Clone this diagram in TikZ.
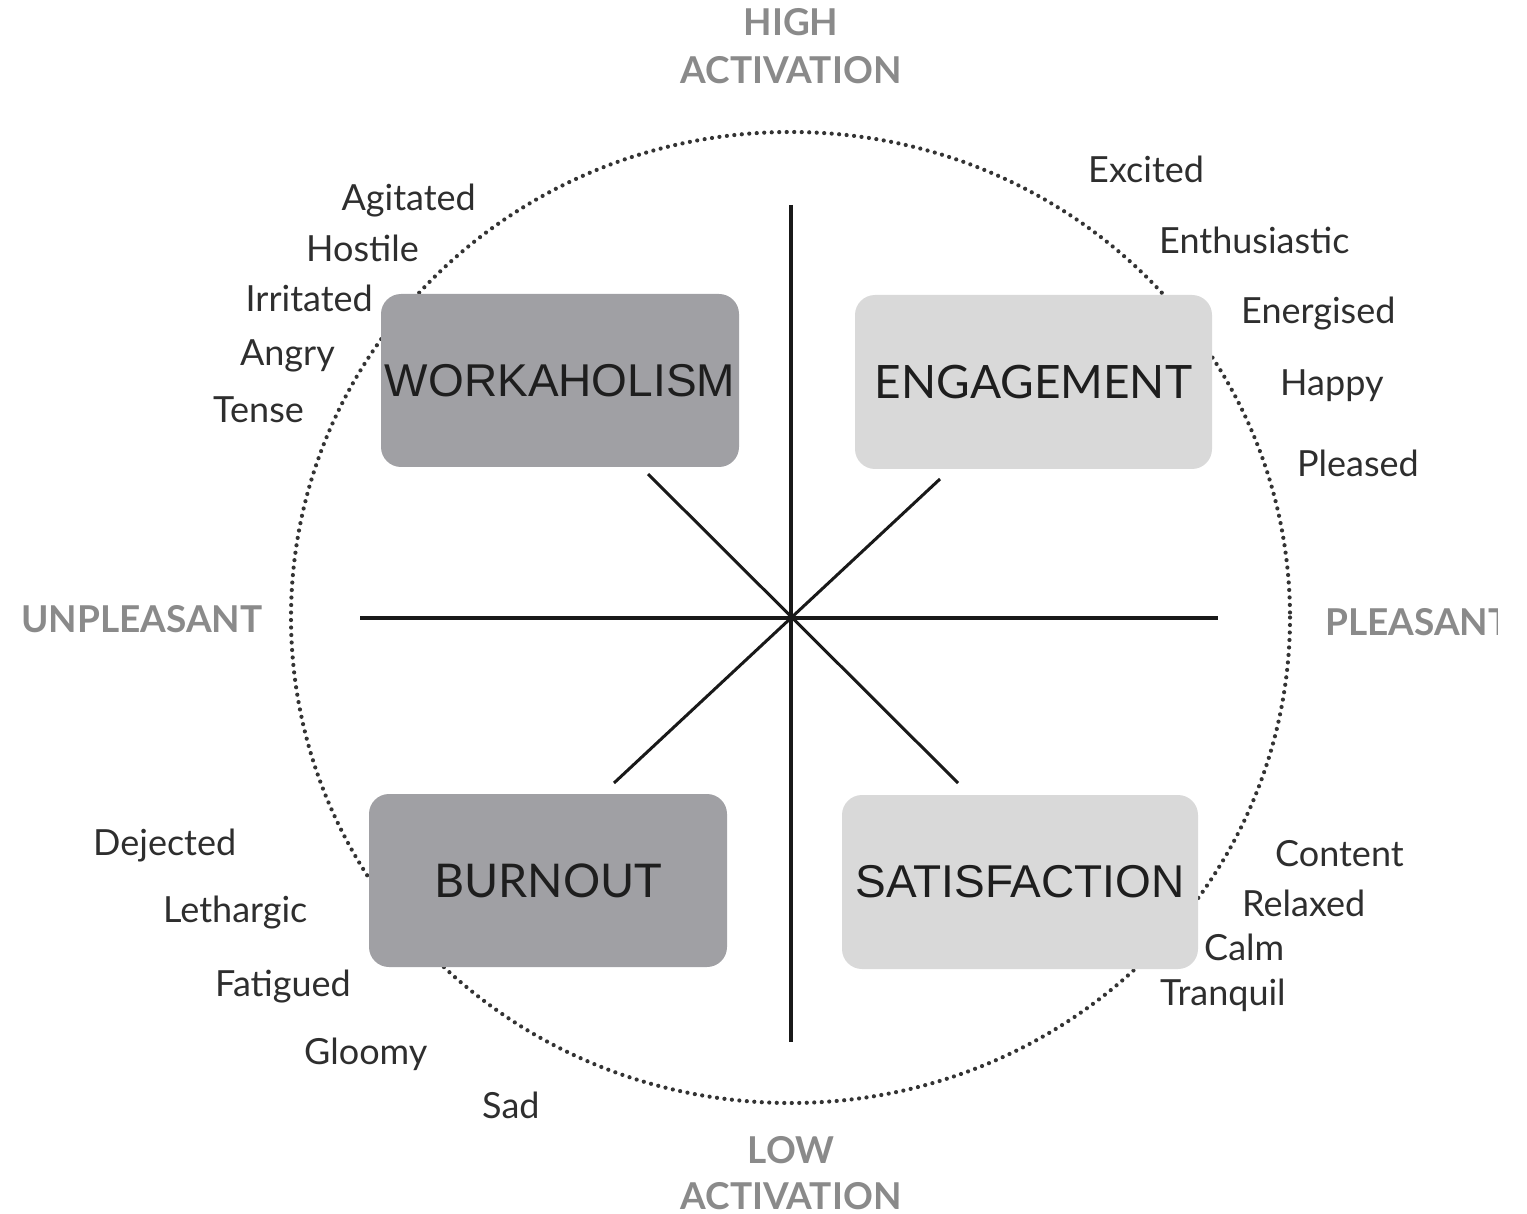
\documentclass[tikz,border=0pt]{standalone}
\usepackage{fontspec}
\setmainfont{Lato}
\newfontfamily\arialfont{Liberation Sans}
\definecolor{darkbox}{HTML}{A0A0A4}
\definecolor{lightbox}{HTML}{D9D9D9}
\definecolor{wordcol}{HTML}{2E2E2E}
\definecolor{headcol}{HTML}{8A8A8A}
\definecolor{boxtext}{HTML}{1E1E1E}
\tikzset{
  word/.style={text=wordcol, inner sep=0pt, font=\fontsize{36}{40}\selectfont},
  head/.style={text=headcol, inner sep=0pt, font=\bfseries\fontsize{37}{40}\selectfont},
  quad/.style={rounded corners=20pt, inner sep=0pt, text=boxtext},
  darkq/.style={quad, fill=darkbox},
  lightq/.style={quad, fill=lightbox},
  axis/.style={line width=4.5pt, draw=black!90},
  diag/.style={line width=3pt, draw=black!90},
  rim/.style={line width=4.2pt, line cap=round, dash pattern=on 0pt off 7.5pt, draw=black!80}
}
\begin{document}
\begin{tikzpicture}[x=1pt,y=-1pt]
\useasboundingbox (0,0) rectangle (1527,1214);
% circle
\coordinate (c) at (790.5,617.5);
\draw[rim] (c) ellipse [x radius=499.5, y radius=485.5];
% axes
\coordinate (vt) at (791,205);
\coordinate (vb) at (791,1042);
\coordinate (hl) at (360,618);
\coordinate (hr) at (1218,618);
\draw[axis] (vt) -- (vb);
\draw[axis] (hl) -- (hr);
\coordinate (d1a) at (648,474);
\coordinate (d1b) at (958,783);
\coordinate (d2a) at (940,479);
\coordinate (d2b) at (614,783);
\draw[diag] (d1a) -- (d1b);
\draw[diag] (d2a) -- (d2b);
% boxes
\node[darkq, minimum width=358pt, minimum height=173pt, font=\arialfont\fontsize{46}{50}\selectfont] (work) at (560,380.5) {WORKAHOLISM};
\node[lightq, minimum width=357pt, minimum height=174pt, font=\fontsize{46}{50}\selectfont] (eng) at (1033.5,382) {ENGAGEMENT};
\node[darkq, minimum width=358pt, minimum height=173pt, font=\fontsize{46.5}{50}\selectfont] (burn) at (548,880.5) {BURNOUT};
\node[lightq, minimum width=356pt, minimum height=174pt, font=\arialfont\fontsize{46}{50}\selectfont] (sat) at (1020,882) {SATISFACTION};
% headings
\node[head, anchor=base] (high) at (791,36) {HIGH};
\node[head, anchor=base] (hact) at (791,84) {ACTIVATION};
\node[head, anchor=base] (low) at (791,1163) {LOW};
\node[head, anchor=base] (lact) at (791,1209) {ACTIVATION};
\node[head, anchor=base west] (unp) at (21,632) {UNPLEASANT};
\begin{scope}
\clip (0,0) rectangle (1497,1214);
\node[head, anchor=base west] (pls) at (1325,635) {PLEASANT};
\end{scope}
% words top right
\node[word, anchor=base west] (w1) at (1088,183) {Excited};
\node[word, anchor=base west] (w2) at (1159,254) {Enthusiastic};
\node[word, anchor=base west] (w3) at (1241,324) {Energised};
\node[word, anchor=base west] (w4) at (1280,396) {Happy};
\node[word, anchor=base west] (w5) at (1297,477) {Pleased};
% words top left
\node[word, anchor=base east] (w6) at (476,211) {Agitated};
\node[word, anchor=base east] (w7) at (419,262) {Hostile};
\node[word, anchor=base east] (w8) at (373,312) {Irritated};
\node[word, anchor=base east] (w9) at (335,366) {Angry};
\node[word, anchor=base east] (w10) at (304,423) {Tense};
% words bottom left
\node[word, anchor=base west] (w11) at (93,855) {Dejected};
\node[word, anchor=base west] (w12) at (163,922) {Lethargic};
\node[word, anchor=base west] (w13) at (215,996) {Fatigued};
\node[word, anchor=base west] (w14) at (304,1064) {Gloomy};
\node[word, anchor=base west] (w15) at (482,1118) {Sad};
% words bottom right
\node[word, anchor=base west] (w16) at (1275,866) {Content};
\node[word, anchor=base west] (w17) at (1242,916) {Relaxed};
\node[word, anchor=base west] (w18) at (1204,960) {Calm};
\node[word, anchor=base west] (w19) at (1160,1005) {Tranquil};
\end{tikzpicture}
\end{document}
